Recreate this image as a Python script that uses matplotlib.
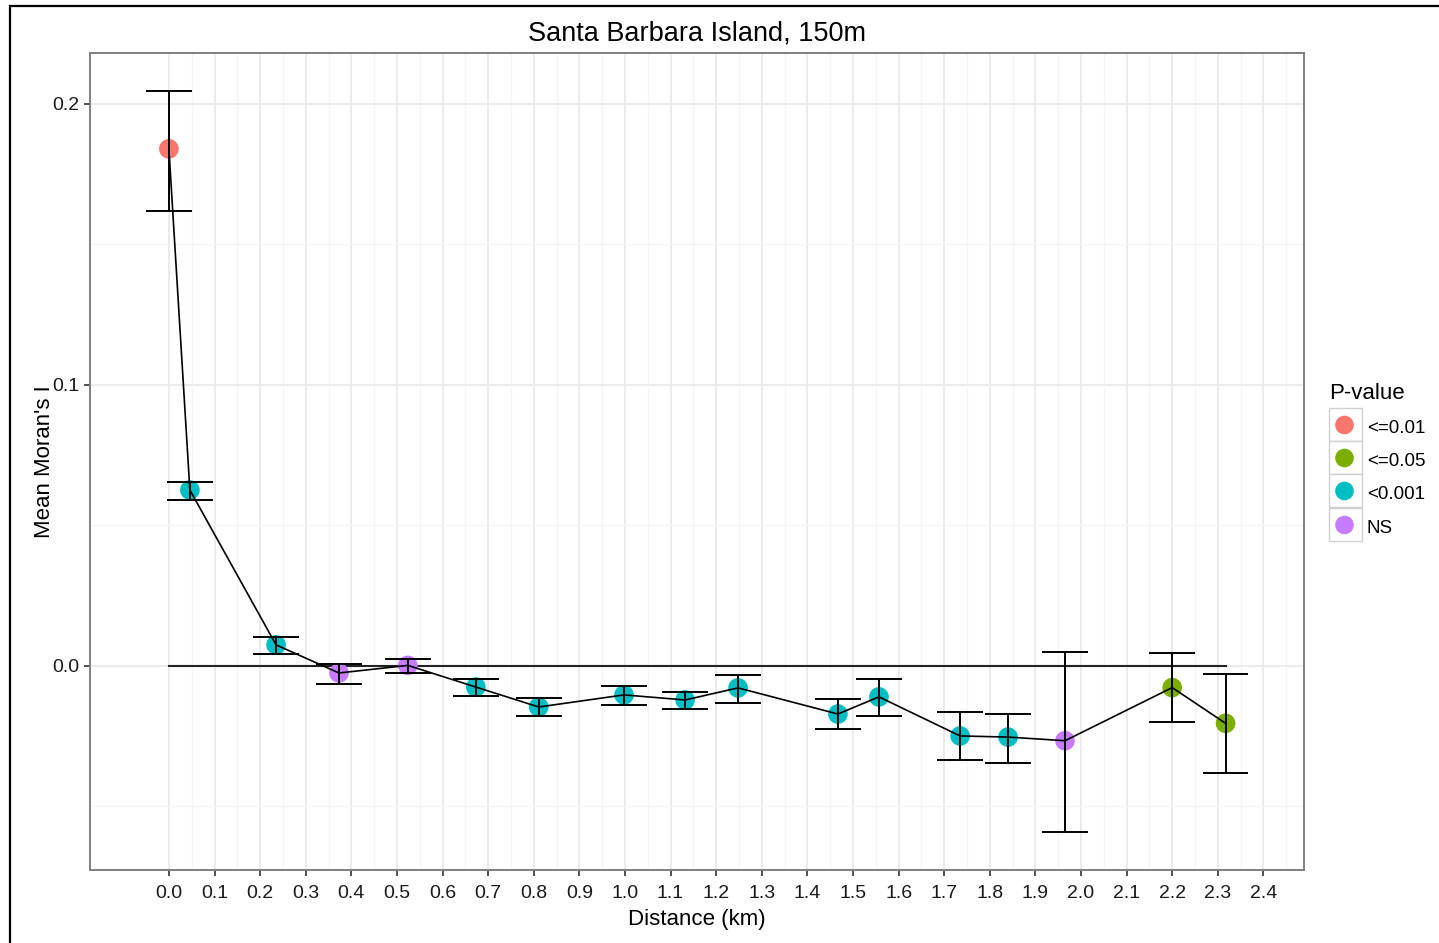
import numpy as np
import matplotlib.pyplot as plt
from matplotlib.patches import Rectangle

plt.rcParams['font.family'] = ['Liberation Sans', 'DejaVu Sans']

# distance classes (km) and mean Moran's I with error bar limits
dist = [0.0, 0.046, 0.235, 0.373, 0.524, 0.673, 0.811, 0.998, 1.132,
        1.248, 1.467, 1.557, 1.735, 1.840, 1.965, 2.200, 2.317]
moran = [0.184, 0.0626, 0.0075, -0.0025, 0.0002, -0.0075, -0.0146, -0.0103,
         -0.0121, -0.0078, -0.0171, -0.0110, -0.0249, -0.0253, -0.0266,
         -0.0077, -0.0204]
upper = [0.2046, 0.0655, 0.0104, 0.0007, 0.0026, -0.0046, -0.0114, -0.0071,
         -0.0093, -0.0032, -0.0117, -0.0046, -0.0164, -0.0171, 0.0051,
         0.0046, -0.0030]
lower = [0.162, 0.0591, 0.0043, -0.0064, -0.0024, -0.0107, -0.0178, -0.0139,
         -0.0153, -0.0132, -0.0224, -0.0178, -0.0335, -0.0345, -0.0591,
         -0.0199, -0.0381]
pval = ['<=0.01', '<0.001', '<0.001', 'NS', 'NS', '<0.001', '<0.001',
        '<0.001', '<0.001', '<0.001', '<0.001', '<0.001', '<0.001',
        '<0.001', 'NS', '<=0.05', '<=0.05']

levels = ['<=0.01', '<=0.05', '<0.001', 'NS']
colors = ['#F8766D', '#7CAE00', '#00BFC4', '#C77CFF']
cmap = dict(zip(levels, colors))

dist = np.array(dist)
moran = np.array(moran)

W, H = 1439, 943
fig = plt.figure(figsize=(W / 100, H / 100), dpi=100)

def px(x0, y0, x1, y1):
    return [x0 / W, 1 - y1 / H, (x1 - x0) / W, (y1 - y0) / H]

ax = fig.add_axes(px(90, 53, 1304, 870))
ax.set_xlim(-0.173, 2.489)
ax.set_ylim(-0.0726, 0.2181)

ax.set_xticks(np.round(np.arange(0, 2.41, 0.1), 1))
ax.set_xticks(np.arange(0.05, 2.5, 0.1), minor=True)
ax.set_yticks([0.0, 0.1, 0.2])
ax.set_yticks([-0.05, 0.05, 0.15], minor=True)
ax.set_xticklabels([f"{v:.1f}" for v in np.arange(0, 2.41, 0.1)])
ax.set_yticklabels(['0.0', '0.1', '0.2'])
ax.grid(which='major', color='#EBEBEB', lw=1.4)
ax.grid(which='minor', color='#F5F5F5', lw=1.0)
ax.set_axisbelow(True)
ax.tick_params(which='major', length=4, width=1.2, color='#333333',
               labelsize=14, labelcolor='#1a1a1a')
ax.tick_params(axis='x', pad=6.5)
ax.tick_params(axis='y', pad=3.5)
ax.tick_params(which='minor', length=0)
for s in ax.spines.values():
    s.set_color('#7F7F7F')
    s.set_linewidth(1.4)

# zero reference across the sampled range
ax.plot([dist.min(), dist.max()], [0, 0], color='#222222', lw=1.5, zorder=2)

ax.scatter(dist, moran, s=200, c=[cmap[p] for p in pval], zorder=3,
           edgecolors='none')

ax.vlines(dist, lower, upper, color='black', lw=1.4, zorder=4)
ax.hlines(upper, dist - 0.05, dist + 0.05, color='black', lw=1.4, zorder=4)
ax.hlines(lower, dist - 0.05, dist + 0.05, color='black', lw=1.4, zorder=4)

ax.plot(dist, moran, color='black', lw=1.2, zorder=5)

ax.set_title("Santa Barbara Island, 150m", fontsize=19.5, pad=9)
ax.set_xlabel("Distance (km)", fontsize=16, labelpad=5)
ax.set_ylabel("Mean Moran's I", fontsize=16, labelpad=-2)

# legend drawn in pixel space
lg = fig.add_axes(px(1320, 370, 1439, 550))
lg.set_xlim(1320, 1439)
lg.set_ylim(550, 370)
lg.axis('off')
lg.text(1329, 394, "P-value", fontsize=16, va='center', ha='left')
row_top = [408, 441, 474, 508]
for i, (lev, col) in enumerate(zip(levels, colors)):
    y0 = row_top[i]
    lg.add_patch(Rectangle((1328.5, y0), 33.5, 33.5, facecolor='white',
                           edgecolor='#D0D0D0', lw=1.0))
    lg.scatter([1344.5], [y0 + 17], s=180, color=col, edgecolors='none',
               zorder=3)
    lg.text(1367, y0 + 21, lev, fontsize=13.5, va='center', ha='left')

# outer frame
fig.patches.append(Rectangle((10 / W, -0.01), 1.0, 1 - 6 / H + 0.01,
                             transform=fig.transFigure, fill=False,
                             edgecolor='black', lw=1.6))

fig.savefig('out.png', dpi=100)
